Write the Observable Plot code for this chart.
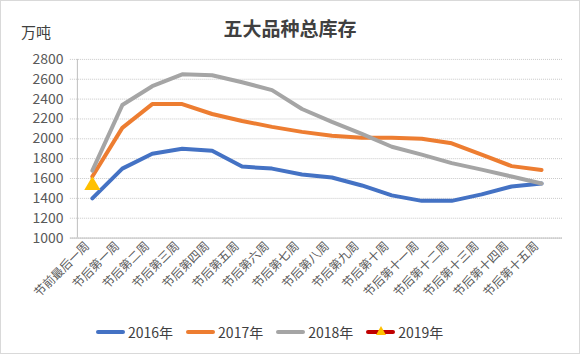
<!DOCTYPE html>
<html><head><meta charset="utf-8">
<script src="https://cdn.jsdelivr.net/npm/d3@7"></script>
<script src="https://cdn.jsdelivr.net/npm/@observablehq/plot@0.6"></script>
<style>
body{margin:0;background:#fff;font-family:"Noto Sans CJK SC","Noto Sans",sans-serif;}
#wrap{position:relative;width:578px;height:352px;border:1px solid #d9d9d9;overflow:hidden;}
#title{position:absolute;left:0;width:578px;top:13px;text-align:center;font-size:19px;font-weight:bold;color:#404040;}
#unit{position:absolute;left:20px;top:20px;font-size:15px;color:#404040;}
#legend{position:absolute;top:321px;left:95px;display:flex;gap:13px;font-size:14px;color:#404040;}
.it{display:flex;align-items:center;}
.sw{width:29px;height:4px;border-radius:2px;margin-right:3px;position:relative;}
#chart{position:absolute;left:-1px;top:-1px;}
</style></head>
<body><div id="wrap"><div id="chart"></div><div id="title">五大品种总库存</div><div id="unit">万吨</div><div id="legend"></div></div>
<script>
const weeks = ["节前最后一周","节后第一周","节后第二周","节后第三周","节后第四周","节后第五周","节后第六周","节后第七周","节后第八周","节后第九周","节后第十周","节后第十一周","节后第十二周","节后第十三周","节后第十四周","节后第十五周"];
const s2016 = [1400,1700,1850,1900,1880,1720,1700,1640,1610,1530,1430,1375,1375,1440,1520,1550];
const s2017 = [1620,2110,2350,2350,2250,2180,2120,2070,2030,2010,2010,2000,1955,1840,1725,1685];
const s2018 = [1680,2340,2530,2650,2640,2570,2490,2300,2170,2050,1920,1840,1755,1690,1620,1550];
const s2019 = [1530];
const seriesNames = ["2016年","2017年","2018年","2019年"];
const colors = ["#4472C4","#ED7D31","#A5A5A5","#C00000"];
const yTicks = [1000,1200,1400,1600,1800,2000,2200,2400,2600,2800];

const rows = [];
[s2016,s2017,s2018,s2019].forEach((arr,si)=>arr.forEach((v,i)=>rows.push({week:weeks[i],value:v,series:seriesNames[si]})));
const pts2019 = rows.filter(d=>d.series==="2019年");

const chart = Plot.plot({
  width:580,height:354,
  marginTop:59,marginBottom:116,marginLeft:70,marginRight:17,
  style:{fontFamily:"'Noto Sans CJK SC',sans-serif",fontSize:"12px",color:"#595959",background:"transparent"},
  x:{type:"point",domain:weeks,padding:0.5,label:null},
  y:{domain:[1000,2800],ticks:yTicks,label:null},
  color:{domain:seriesNames,range:colors},
  marks:[
    Plot.gridY(yTicks,{stroke:"#c8c8c8",strokeOpacity:1,strokeDasharray:"1,1"}),
    Plot.ruleY([1000],{stroke:"#bfbfbf"}),
    Plot.ruleX([weeks[0]],{stroke:"#bfbfbf",dx:-15}),
    Plot.axisY({ticks:yTicks,tickSize:0,tickPadding:7,fontSize:14,tickFormat:d=>String(d)}),
    Plot.axisX({tickSize:0,tickRotate:-45,tickPadding:6,fontSize:12,dx:-5}),
    Plot.line(rows.filter(d=>d.series!=="2019年"),{x:"week",y:"value",z:"series",stroke:"series",strokeWidth:4,strokeLinejoin:"round"}),
    Plot.dot(pts2019,{x:"week",y:"value",symbol:"triangle",r:6,fill:"#FFC000",stroke:"none"})
  ]
});
document.getElementById("chart").appendChild(chart);

const lg = document.getElementById("legend");
seriesNames.forEach((n,i)=>{
  const it=document.createElement("div");it.className="it";
  const sw=document.createElement("div");sw.className="sw";sw.style.background=colors[i];
  if(n==="2019年"){
    const tri=document.createElement("div");
    tri.style.cssText="position:absolute;left:10px;top:-4px;width:0;height:0;border-left:5px solid transparent;border-right:5px solid transparent;border-bottom:9px solid #FFC000;";
    sw.appendChild(tri);
  }
  const t=document.createElement("span");t.textContent=n;
  it.appendChild(sw);it.appendChild(t);lg.appendChild(it);
});
</script></body></html>
